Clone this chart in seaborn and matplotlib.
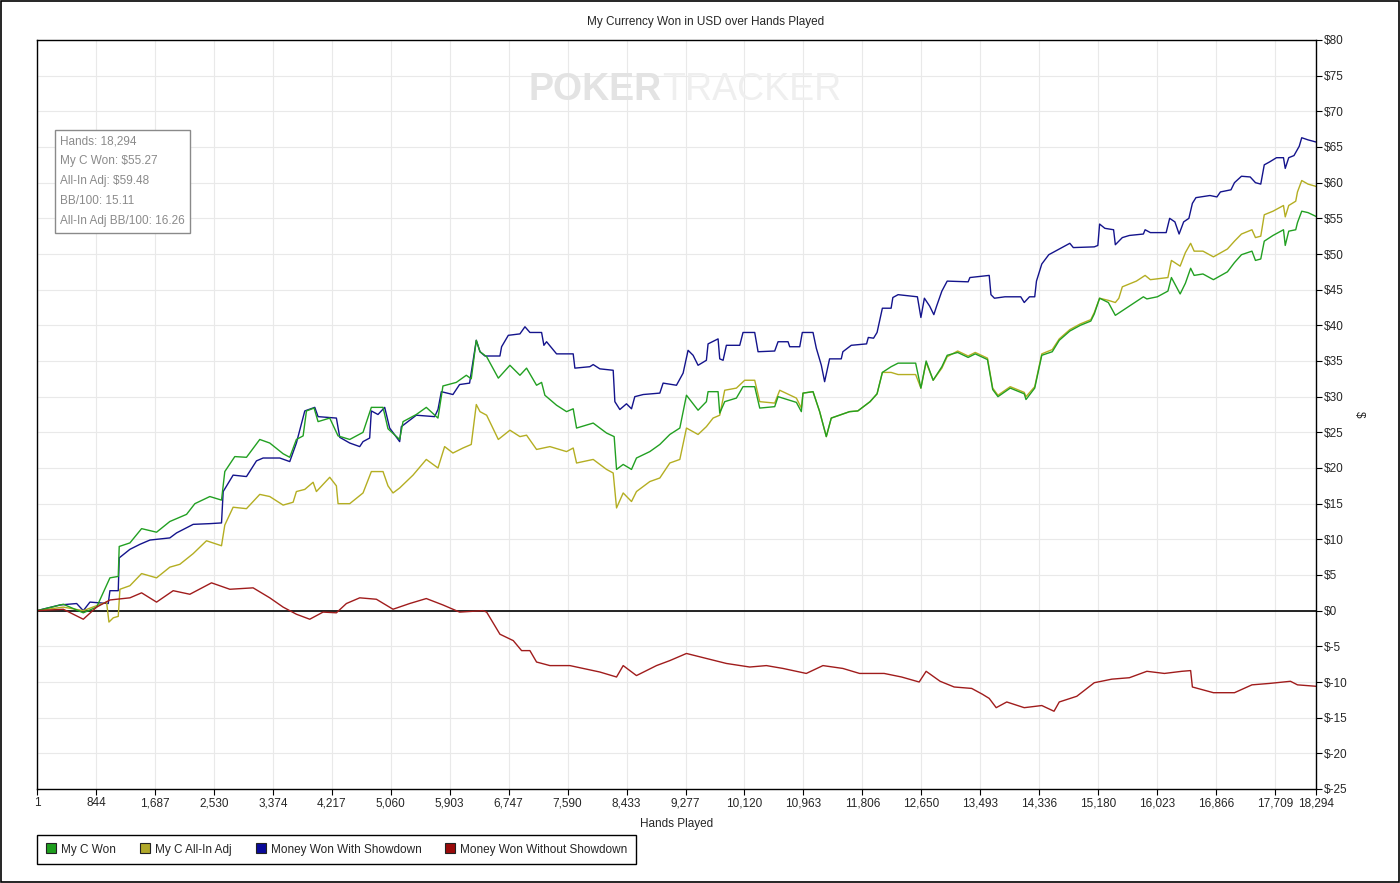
import pandas as pd
import matplotlib
matplotlib.use('Agg')
import matplotlib.pyplot as plt
from matplotlib.lines import Line2D
from matplotlib.patches import Rectangle
import seaborn as sns

# values: (hands played, USD)
my_c_won = [
    (1, 0.0), (377, 0.9), (663, -0.3), (854, 0.5), (1044, 4.6), (1163, 4.8), (1177, 9.0),
    (1330, 9.5), (1497, 11.5), (1711, 11.0), (1901, 12.5), (2140, 13.5), (2259, 15.0),
    (2473, 16.0), (2640, 15.5), (2687, 19.5), (2830, 21.6), (2997, 21.5), (3187, 24.0),
    (3330, 23.5), (3521, 22.0), (3616, 21.5), (3711, 24.0), (3807, 24.5), (3855, 28.0),
    (3964, 28.4), (4021, 26.5), (4188, 27.0), (4307, 24.5), (4474, 24.0), (4664, 25.0),
    (4783, 28.5), (4950, 28.5), (5021, 25.5), (5188, 24.0), (5236, 26.5), (5426, 27.5),
    (5569, 28.5), (5736, 27.0), (5807, 31.5), (5998, 32.0), (6141, 33.0), (6212, 32.5),
    (6284, 37.9), (6337, 36.3), (6432, 35.6), (6599, 32.6), (6765, 34.4), (6908, 33.0),
    (7003, 34.0), (7146, 31.6), (7218, 32.0), (7265, 30.2), (7432, 28.8), (7575, 27.9),
    (7670, 28.3), (7718, 25.6), (7956, 26.3), (8147, 24.9), (8256, 24.4), (8290, 19.8),
    (8385, 20.5), (8504, 19.8), (8575, 21.4), (8766, 22.3), (8909, 23.3), (9052, 24.7),
    (9195, 25.6), (9290, 30.2), (9456, 28.1), (9575, 29.3), (9599, 30.7), (9742, 30.7),
    (9766, 27.7), (9837, 29.3), (10004, 29.8), (10099, 31.4), (10266, 31.4), (10338, 28.4),
    (10552, 28.6), (10600, 30.0), (10862, 29.2), (10933, 27.9), (10957, 30.5), (11100, 30.7),
    (11195, 27.9), (11290, 24.4), (11361, 27.0), (11623, 27.9), (11741, 28.0), (11916, 29.3),
    (12016, 30.4), (12092, 33.4), (12217, 34.2), (12317, 34.7), (12568, 34.7), (12643, 31.2),
    (12718, 35.0), (12818, 32.3), (12943, 34.2), (13019, 35.8), (13169, 36.2), (13319, 35.5),
    (13420, 36.0), (13595, 35.2), (13670, 31.0), (13745, 30.0), (13921, 31.2), (14121, 30.4),
    (14146, 29.6), (14271, 31.2), (14372, 35.8), (14522, 36.3), (14622, 37.9), (14773, 39.2),
    (14923, 40.0), (15073, 40.6), (15123, 41.6), (15199, 43.8), (15324, 43.2), (15424, 41.4),
    (15625, 42.7), (15825, 44.0), (15875, 43.7), (16025, 44.0), (16176, 44.8), (16226, 46.7),
    (16351, 44.4), (16426, 45.9), (16501, 48.0), (16551, 47.0), (16677, 47.2), (16827, 46.4),
    (17027, 47.5), (17128, 48.8), (17228, 49.9), (17378, 50.4), (17428, 49.1), (17504, 49.3),
    (17554, 51.8), (17679, 52.6), (17829, 53.4), (17854, 51.2), (17904, 53.2), (18004, 53.4),
    (18029, 54.4), (18090, 56.0), (18180, 55.8), (18294, 55.27),
]

all_in_adj = [
    (1, 0.0), (377, 0.5), (663, 0.0), (854, 0.7), (996, 1.2), (1030, -1.6), (1092, -1.0),
    (1163, -0.8), (1187, 3.0), (1330, 3.5), (1497, 5.2), (1711, 4.6), (1901, 6.1),
    (2044, 6.5), (2235, 8.0), (2425, 9.8), (2640, 9.1), (2687, 12.0), (2806, 14.5),
    (2997, 14.3), (3187, 16.3), (3330, 16.0), (3521, 14.8), (3664, 15.2), (3711, 16.7),
    (3831, 17.0), (3950, 18.0), (3997, 16.7), (4188, 18.7), (4283, 17.5), (4307, 15.0),
    (4474, 15.0), (4664, 16.5), (4783, 19.5), (4950, 19.5), (5021, 17.5), (5093, 16.5),
    (5188, 17.2), (5379, 19.0), (5569, 21.2), (5736, 20.0), (5831, 23.0), (5950, 22.1),
    (6093, 22.8), (6212, 23.3), (6284, 28.9), (6337, 27.9), (6432, 27.4), (6599, 24.0),
    (6765, 25.3), (6908, 24.4), (7003, 24.6), (7146, 22.6), (7337, 23.0), (7575, 22.3),
    (7670, 22.8), (7718, 20.7), (7956, 21.2), (8147, 19.8), (8242, 19.3), (8290, 14.4),
    (8385, 16.5), (8504, 15.3), (8575, 16.7), (8766, 18.1), (8909, 18.6), (9052, 20.7),
    (9195, 21.2), (9290, 25.6), (9456, 24.7), (9575, 25.8), (9671, 27.0), (9766, 27.4),
    (9837, 30.9), (10004, 31.2), (10123, 32.3), (10266, 32.3), (10338, 29.3), (10552, 29.1),
    (10624, 30.9), (10862, 29.8), (10933, 28.4), (10957, 30.5), (11100, 30.7), (11195, 27.9),
    (11290, 24.4), (11361, 27.0), (11623, 27.9), (11741, 28.0), (11916, 29.3), (12016, 30.4),
    (12092, 33.4), (12217, 33.4), (12317, 33.1), (12568, 33.1), (12643, 31.2), (12718, 34.8),
    (12818, 32.3), (12943, 34.0), (13019, 35.6), (13169, 36.4), (13319, 35.7), (13420, 36.2),
    (13595, 35.4), (13670, 31.2), (13745, 30.2), (13921, 31.4), (14121, 30.6), (14146, 30.0),
    (14271, 31.4), (14372, 36.0), (14522, 36.6), (14622, 38.1), (14773, 39.4), (14923, 40.2),
    (15073, 40.8), (15123, 41.8), (15199, 43.8), (15324, 43.5), (15424, 43.2), (15474, 43.8),
    (15524, 45.4), (15725, 46.2), (15850, 47.0), (15925, 46.4), (16176, 46.7), (16226, 49.1),
    (16351, 48.3), (16426, 50.2), (16501, 51.5), (16551, 50.4), (16677, 50.4), (16827, 49.6),
    (17027, 50.7), (17128, 51.8), (17228, 52.8), (17378, 53.4), (17428, 52.3), (17504, 52.5),
    (17554, 55.5), (17679, 56.0), (17829, 56.8), (17854, 55.2), (17904, 56.8), (18004, 57.4),
    (18029, 58.7), (18090, 60.3), (18180, 59.8), (18294, 59.48),
]

with_showdown = [
    (1, 0.0), (330, 0.8), (568, 1.0), (663, 0.0), (758, 1.2), (1020, 1.0), (1044, 2.8),
    (1163, 2.8), (1177, 7.4), (1330, 8.6), (1473, 9.3), (1616, 9.9), (1901, 10.2),
    (1997, 10.9), (2235, 12.1), (2473, 12.2), (2640, 12.3), (2664, 16.7), (2806, 19.0),
    (2997, 18.8), (3140, 21.0), (3235, 21.4), (3473, 21.4), (3616, 20.9), (3711, 23.5),
    (3831, 28.0), (3974, 28.5), (4021, 27.2), (4283, 27.0), (4331, 24.3), (4474, 23.5),
    (4617, 23.0), (4664, 23.7), (4759, 24.2), (4783, 28.0), (4878, 27.5), (4974, 28.5),
    (5045, 25.6), (5188, 23.7), (5212, 25.8), (5426, 27.4), (5688, 27.2), (5736, 28.2),
    (5784, 30.7), (5950, 30.3), (6045, 31.7), (6188, 31.9), (6284, 37.9), (6337, 36.3),
    (6408, 35.7), (6622, 35.7), (6646, 37.0), (6742, 38.6), (6908, 38.8), (6980, 39.8),
    (7051, 39.0), (7218, 39.0), (7251, 37.2), (7289, 37.7), (7432, 36.0), (7670, 36.0),
    (7694, 34.0), (7908, 34.2), (7956, 34.5), (8051, 33.9), (8242, 33.7), (8266, 29.3),
    (8337, 28.2), (8432, 29.0), (8504, 28.3), (8551, 30.0), (8671, 30.3), (8909, 30.5),
    (8956, 31.9), (9147, 31.6), (9242, 33.3), (9313, 36.5), (9385, 35.8), (9456, 34.4),
    (9575, 35.1), (9599, 37.4), (9742, 38.1), (9766, 35.3), (9814, 35.1), (9861, 37.2),
    (10052, 37.2), (10099, 39.0), (10266, 39.0), (10314, 36.3), (10552, 36.4), (10600, 37.7),
    (10743, 37.7), (10767, 37.0), (10910, 37.0), (10947, 39.0), (11100, 39.0), (11147, 36.8),
    (11219, 34.4), (11266, 32.1), (11337, 35.3), (11504, 35.3), (11527, 36.3), (11647, 37.2),
    (11866, 37.4), (11891, 38.3), (11966, 38.2), (12016, 39.0), (12092, 42.4), (12217, 42.4),
    (12242, 43.9), (12317, 44.3), (12593, 44.0), (12643, 41.1), (12693, 43.8), (12768, 42.7),
    (12828, 41.5), (12868, 42.7), (12943, 44.8), (13019, 46.2), (13319, 46.1), (13344, 46.7),
    (13620, 47.0), (13645, 44.3), (13695, 43.8), (13845, 44.0), (14071, 44.0), (14121, 43.2),
    (14196, 44.0), (14271, 44.0), (14296, 46.2), (14372, 48.6), (14472, 49.9), (14622, 50.7),
    (14773, 51.5), (14823, 50.9), (15123, 51.0), (15174, 51.2), (15199, 54.2), (15274, 53.6),
    (15399, 53.4), (15424, 51.3), (15524, 52.3), (15625, 52.6), (15825, 52.8), (15850, 53.4),
    (15925, 53.0), (16151, 53.0), (16201, 55.0), (16276, 54.5), (16336, 52.8), (16401, 54.5),
    (16476, 55.0), (16526, 57.1), (16577, 57.9), (16777, 58.2), (16877, 58.0), (16927, 58.7),
    (17078, 59.0), (17128, 60.0), (17228, 60.9), (17353, 60.8), (17428, 60.0), (17504, 59.8),
    (17554, 62.5), (17629, 62.9), (17729, 63.5), (17829, 63.5), (17854, 62.0), (17904, 63.5),
    (17979, 63.8), (18054, 65.1), (18090, 66.3), (18180, 66.0), (18294, 65.7),
]

without_showdown = [
    (1, 0.0), (377, 0.2), (663, -1.2), (854, 0.5), (1044, 1.5), (1330, 1.8), (1497, 2.5),
    (1711, 1.2), (1949, 2.8), (2187, 2.3), (2497, 3.9), (2759, 3.0), (3092, 3.2),
    (3330, 1.8), (3521, 0.5), (3711, -0.5), (3902, -1.2), (4092, -0.2), (4283, -0.3),
    (4426, 1.0), (4617, 1.8), (4855, 1.6), (5093, 0.2), (5331, 1.0), (5569, 1.7),
    (5807, 0.8), (6045, -0.2), (6379, 0.0), (6432, -0.2), (6622, -3.3), (6813, -4.2),
    (6932, -5.6), (7051, -5.6), (7146, -7.2), (7337, -7.7), (7623, -7.7), (7813, -8.1),
    (8051, -8.6), (8290, -9.3), (8385, -7.7), (8575, -9.1), (8861, -7.7), (9052, -7.0),
    (9290, -6.0), (9575, -6.7), (9861, -7.4), (10195, -7.9), (10433, -7.7), (10671, -8.1),
    (11004, -8.8), (11242, -7.7), (11527, -8.1), (11766, -8.8), (12117, -8.8), (12367, -9.3),
    (12618, -10.0), (12718, -8.5), (12918, -9.9), (13119, -10.7), (13369, -10.9),
    (13520, -11.7), (13620, -12.3), (13720, -13.6), (13871, -12.8), (14121, -13.6),
    (14372, -13.3), (14547, -14.1), (14622, -12.8), (14873, -12.0), (15123, -10.1),
    (15374, -9.6), (15625, -9.4), (15875, -8.5), (16126, -8.8), (16376, -8.5), (16501, -8.4),
    (16526, -10.7), (16827, -11.5), (17128, -11.5), (17378, -10.4), (17629, -10.2),
    (17929, -9.9), (18029, -10.4), (18294, -10.6),
]

series_names = ['My C Won', 'My C All-In Adj', 'Money Won With Showdown', 'Money Won Without Showdown']
series_colors = ['#22a022', '#b4ae22', '#14148c', '#a01c1c']
legend_colors = ['#1e9e1e', '#b0a82a', '#0a0a9a', '#9a0a0a']

x_ticks = [1, 844, 1687, 2530, 3374, 4217, 5060, 5903, 6747, 7590, 8433, 9277, 10120,
           10963, 11806, 12650, 13493, 14336, 15180, 16023, 16866, 17709, 18294]
y_ticks = list(range(-25, 85, 5))

info_lines = ['Hands: 18,294', 'My C Won: $55.27', 'All-In Adj: $59.48',
              'BB/100: 15.11', 'All-In Adj BB/100: 16.26']

# long table for seaborn
frames = []
for name, pts in zip(series_names, [my_c_won, all_in_adj, with_showdown, without_showdown]):
    part = pd.DataFrame(pts, columns=['hands', 'usd'])
    part['series'] = name
    frames.append(part)
df = pd.concat(frames, ignore_index=True)

sns.set_style('white')
plt.rcParams['font.family'] = ['Liberation Sans', 'DejaVu Sans']

fig = plt.figure(figsize=(14, 8.83), dpi=100)
ax = fig.add_axes([37 / 1400, 1 - 789 / 883, 1279 / 1400, 749 / 883])

# draw order: showdown under the won lines, red last
draw_order = [series_names[2], series_names[1], series_names[0], series_names[3]]
palette = dict(zip(series_names, series_colors))
sns.lineplot(data=df, x='hands', y='usd', hue='series', hue_order=draw_order,
             palette=palette, estimator=None, sort=False, legend=False,
             linewidth=1.0, ax=ax)

ax.axhline(0, color='black', lw=1.2, zorder=1.5)

ax.set_xlim(1, 18294)
ax.set_ylim(-25, 80)
ax.set_xticks(x_ticks)
ax.set_xticklabels([f'{t:,}' for t in x_ticks])
ax.set_yticks(y_ticks)
ax.set_yticklabels([f'${t}' for t in y_ticks])
ax.yaxis.tick_right()
ax.yaxis.set_label_position('right')
ax.tick_params(axis='both', labelsize=8.5, length=4, width=0.8, color='black',
               direction='out', pad=2, right=True, bottom=True)
ax.grid(True, color='#e9e9e9', lw=0.8)
ax.set_axisbelow(True)
for sp in ax.spines.values():
    sp.set_color('black')
    sp.set_linewidth(1.0)

ax.set_xlabel('Hands Played', fontsize=8.5, labelpad=6)
ax.set_ylabel('$', fontsize=8.5, rotation=-90, labelpad=12)

fig.text(706 / 1400, 1 - 22 / 883, 'My Currency Won in USD over Hands Played',
         ha='center', va='center', fontsize=8.5)

# faint watermark
fig.text(662 / 1400, 1 - 90 / 883, 'POKER', ha='right', va='center',
         fontsize=27, fontweight='bold', color='#e3e3e3', zorder=0)
fig.text(662 / 1400, 1 - 90 / 883, 'TRACKER', ha='left', va='center',
         fontsize=27, color='#efefef', zorder=0)

ax.text((60 - 37) / 1279, (789 - 135) / 749, '\n'.join(info_lines), transform=ax.transAxes,
        ha='left', va='top', fontsize=8.5, color='#8a8a8a', linespacing=1.9,
        bbox=dict(boxstyle='square,pad=0.45', fc='white', ec='#8a8a8a', lw=1.0))

handles = [Line2D([], [], ls='', marker='s', markersize=7, markerfacecolor=c,
                  markeredgecolor='#222222', markeredgewidth=0.8) for c in legend_colors]
ax.legend(handles, series_names, loc='upper left', bbox_to_anchor=(0, -0.061), ncol=4,
          frameon=True, fancybox=False, edgecolor='black', framealpha=1,
          fontsize=8.5, handlelength=0.9, handletextpad=0.4, columnspacing=2.0,
          borderpad=0.75, borderaxespad=0)

fig.patches.append(Rectangle((0.0004, 0.0006), 0.9992, 0.9988, transform=fig.transFigure,
                             fill=False, ec='black', lw=1.2))

fig.savefig('out.png', dpi=100)
